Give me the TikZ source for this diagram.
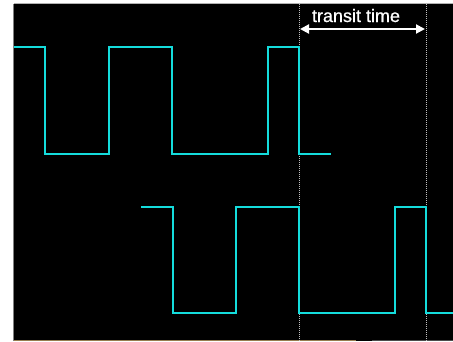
\documentclass[tikz,border=0pt]{standalone}
\usepackage{fontspec}
\setmainfont{Liberation Sans}
\newfontfamily\lblfont{Liberation Sans}[FakeBold=0.8]
\usetikzlibrary{arrows.meta}
\definecolor{wave}{RGB}{20,220,220}
\definecolor{tanline}{RGB}{150,125,80}
\tikzset{
  wavestyle/.style={draw=wave, line width=2.2pt, line join=miter},
  dotline/.style={draw=white!75!black, line width=1pt, dash pattern=on 1pt off 1pt},
  measure/.style={draw=white, line width=2pt, {Triangle[length=9pt,width=9pt]}-{Triangle[length=9pt,width=9pt]}},
  lbl/.style={text=white, font=\lblfont\fontsize{18pt}{20pt}\selectfont, inner sep=0pt, anchor=base}
}
\begin{document}
\begin{tikzpicture}[x=1pt,y=-1pt]
\useasboundingbox (0,0) rectangle (453,341);
\fill[white] (0,0) rectangle (453,341);
\fill[black] (14,4) rectangle (453,341);
\draw[gray, line width=0.8pt] (13.5,4) -- (13.5,341);
\draw[gray!60, line width=0.6pt] (14,3.7) -- (453,3.7);
\draw[tanline, line width=1pt] (14,340.5) -- (356,340.5);
\draw[gray!60!black, line width=1pt] (372,340.5) -- (453,340.5);
% dotted marker lines
\coordinate (m1top) at (299,4);
\coordinate (m1bot) at (299,341);
\coordinate (m2top) at (426,4);
\coordinate (m2bot) at (426,341);
\draw[dotline] (m1top) -- (m1bot);
\draw[dotline] (m2top) -- (m2bot);
% waveform 1
\draw[wavestyle] (14,47) -- (45,47) -- (45,154) -- (109,154) -- (109,47) -- (172,47) -- (172,154) -- (268,154) -- (268,47) -- (299,47) -- (299,154) -- (331,154);
% waveform 2
\draw[wavestyle] (141,207) -- (173,207) -- (173,313) -- (236,313) -- (236,207) -- (299,207) -- (299,313) -- (395,313) -- (395,207) -- (426,207) -- (426,313) -- (453,313);
% transit time arrow
\coordinate (a1) at (300,29);
\coordinate (a2) at (425,29);
\draw[measure] (a1) -- (a2);
\node[lbl] (tt) at (356,22) {transit time};
\end{tikzpicture}
\end{document}
